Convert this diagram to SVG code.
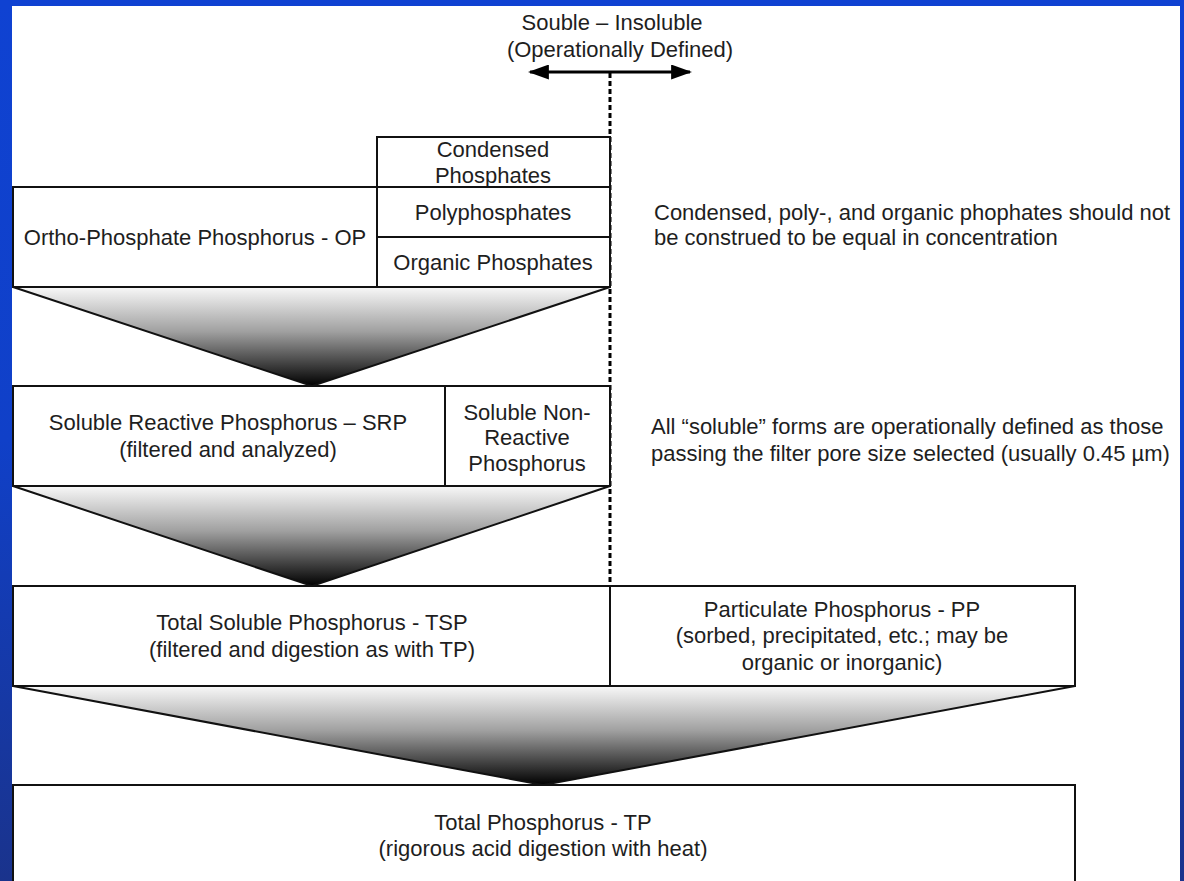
<svg xmlns="http://www.w3.org/2000/svg" width="1184" height="881" viewBox="0 0 1184 881">
<defs>
<linearGradient id="bg" x1="0" y1="0" x2="0" y2="1">
<stop offset="0" stop-color="#0f42d2"/>
<stop offset="0.5" stop-color="#1040c8"/>
<stop offset="1" stop-color="#1a338c"/>
</linearGradient>
<linearGradient id="tri" x1="0" y1="0" x2="0" y2="1">
<stop offset="0" stop-color="#f8f8f8"/>
<stop offset="0.45" stop-color="#a0a0a0"/>
<stop offset="1" stop-color="#000"/>
</linearGradient>
<marker id="ah" viewBox="0 0 10 10" refX="9" refY="5" markerWidth="7" markerHeight="5" orient="auto-start-reverse" markerUnits="strokeWidth" preserveAspectRatio="none">
<path d="M0,0 L10,5 L0,10 z" fill="#000"/>
</marker>
<style>
.box{fill:#fff;stroke:#111;stroke-width:2}
.tri{fill:url(#tri);stroke:#111;stroke-width:2;stroke-linejoin:miter}
text{font-family:"Liberation Sans",Arial,sans-serif;font-size:22px;fill:#1e1e1e}
.c{text-anchor:middle}
</style>
</defs>
<rect x="0" y="0" width="1184" height="881" fill="url(#bg)"/>
<rect x="12" y="6" width="1168" height="875" fill="#fff"/>

<g id="header">
<text class="c" x="612" y="30">Souble – Insoluble</text>
<text class="c" x="620" y="57">(Operationally Defined)</text>
</g>

<g id="connectors">
<line x1="530" y1="72" x2="690" y2="72" stroke="#000" stroke-width="3" marker-start="url(#ah)" marker-end="url(#ah)"/>
<line x1="610" y1="73" x2="610" y2="587" stroke="#000" stroke-width="3" stroke-dasharray="5 3"/>
</g>

<g id="triangles">
<polygon class="tri" points="13,287 610,287 312,386"/>
<polygon class="tri" points="13,486 610,486 312,586"/>
<polygon class="tri" points="13,686 1075,686 543,785"/>
</g>

<g id="op">
<rect class="box" x="13" y="187" width="364" height="100"/>
<text class="c" x="195" y="245">Ortho-Phosphate Phosphorus - OP</text>
</g>
<g id="condensed">
<rect class="box" x="377" y="137" width="233" height="50"/>
<text class="c" x="493" y="157">Condensed</text>
<text class="c" x="493" y="183">Phosphates</text>
</g>
<g id="poly">
<rect class="box" x="377" y="187" width="233" height="50"/>
<text class="c" x="493" y="220">Polyphosphates</text>
</g>
<g id="organic">
<rect class="box" x="377" y="237" width="233" height="50"/>
<text class="c" x="493" y="270">Organic Phosphates</text>
</g>

<g id="srp">
<rect class="box" x="13" y="386" width="432" height="100"/>
<text class="c" x="228" y="430">Soluble Reactive Phosphorus – SRP</text>
<text class="c" x="228" y="457">(filtered and analyzed)</text>
</g>
<g id="snrp">
<rect class="box" x="445" y="386" width="165" height="100"/>
<text class="c" x="527" y="420">Soluble Non-</text>
<text class="c" x="527" y="445">Reactive</text>
<text class="c" x="527" y="471">Phosphorus</text>
</g>

<g id="tsp">
<rect class="box" x="13" y="586" width="597" height="100"/>
<text class="c" x="312" y="630">Total Soluble Phosphorus - TSP</text>
<text class="c" x="312" y="657">(filtered and digestion as with TP)</text>
</g>
<g id="pp">
<rect class="box" x="610" y="586" width="465" height="100"/>
<text class="c" x="842" y="617">Particulate Phosphorus - PP</text>
<text class="c" x="842" y="643">(sorbed, precipitated, etc.; may be</text>
<text class="c" x="842" y="670">organic or inorganic)</text>
</g>

<g id="tp">
<rect class="box" x="13" y="785" width="1062" height="110"/>
<text class="c" x="543" y="830">Total Phosphorus - TP</text>
<text class="c" x="543" y="856">(rigorous acid digestion with heat)</text>
</g>

<g id="note1">
<text x="654" y="220">Condensed, poly-, and organic phophates should not</text>
<text x="654" y="245">be construed to be equal in concentration</text>
</g>
<g id="note2">
<text x="651" y="434">All “soluble” forms are operationally defined as those</text>
<text x="651" y="461">passing the filter pore size selected (usually 0.45 µm)</text>
</g>
</svg>
